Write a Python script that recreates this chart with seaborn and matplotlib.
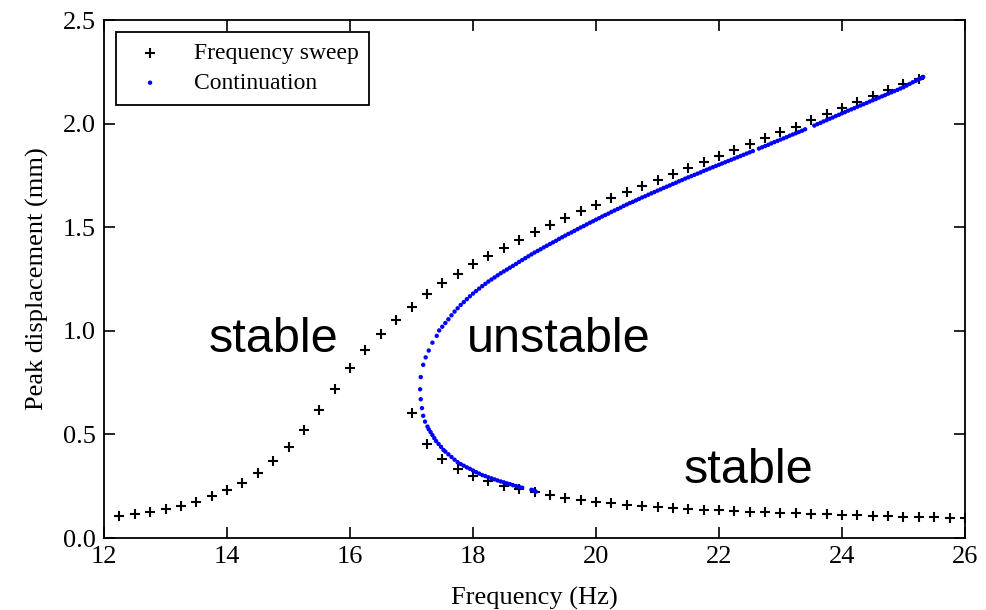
import matplotlib
matplotlib.use("Agg")
import matplotlib.pyplot as plt
import pandas as pd
import seaborn as sns

# frequency sweep: up sweep (12.25 -> 25.25 Hz) and down sweep (26 -> 17 Hz)
up_freq = [12.25, 12.5, 12.75, 13.0, 13.25, 13.5, 13.75, 14.0, 14.25, 14.5,
           14.75, 15.0, 15.25, 15.5, 15.75, 16.0, 16.25, 16.5, 16.75, 17.0,
           17.25, 17.5, 17.75, 18.0, 18.25, 18.5, 18.75, 19.0, 19.25, 19.5,
           19.75, 20.0, 20.25, 20.5, 20.75, 21.0, 21.25, 21.5, 21.75, 22.0,
           22.25, 22.5, 22.75, 23.0, 23.25, 23.5, 23.75, 24.0, 24.25, 24.5,
           24.75, 25.0, 25.25]
up_disp = [0.106, 0.114, 0.126, 0.139, 0.155, 0.174, 0.201, 0.232, 0.266, 0.312,
           0.372, 0.441, 0.522, 0.618, 0.718, 0.820, 0.908, 0.985, 1.053, 1.117,
           1.177, 1.230, 1.274, 1.322, 1.362, 1.402, 1.440, 1.477, 1.512, 1.544,
           1.578, 1.609, 1.641, 1.670, 1.700, 1.728, 1.757, 1.786, 1.816, 1.845,
           1.874, 1.903, 1.931, 1.962, 1.986, 2.019, 2.048, 2.076, 2.106, 2.135,
           2.164, 2.191, 2.218]
down_freq = [26.0, 25.75, 25.5, 25.25, 25.0, 24.75, 24.5, 24.25, 24.0, 23.75,
             23.5, 23.25, 23.0, 22.75, 22.5, 22.25, 22.0, 21.75, 21.5, 21.25,
             21.0, 20.75, 20.5, 20.25, 20.0, 19.75, 19.5, 19.25, 19.0, 18.75,
             18.5, 18.25, 18.0, 17.75, 17.5, 17.25, 17.0]
down_disp = [0.097, 0.098, 0.100, 0.101, 0.103, 0.105, 0.106, 0.109, 0.111, 0.114,
             0.116, 0.119, 0.121, 0.124, 0.127, 0.130, 0.134, 0.137, 0.140, 0.145,
             0.150, 0.155, 0.161, 0.167, 0.175, 0.182, 0.192, 0.206, 0.221, 0.237,
             0.253, 0.275, 0.300, 0.335, 0.382, 0.453, 0.603]

# continuation: lower branch -> turning point -> upper branch
cont_freq = [19.02, 19.0, 18.98, 18.95, 18.8, 18.75, 18.7, 18.65, 18.6, 18.55,
             18.5, 18.45, 18.4, 18.35, 18.3, 18.25, 18.2, 18.15, 18.1, 18.05,
             18.0, 17.95, 17.9, 17.85, 17.8, 17.75, 17.7, 17.65, 17.6, 17.55,
             17.52, 17.48, 17.44, 17.4, 17.37, 17.34, 17.31, 17.28, 17.26, 17.22,
             17.19, 17.17, 17.15, 17.14, 17.15, 17.19, 17.23, 17.28, 17.34, 17.41,
             17.45,
             17.5, 17.55, 17.6, 17.65, 17.7, 17.75, 17.8, 17.85, 17.9, 17.95,
             18.0, 18.05, 18.1, 18.15, 18.2, 18.25, 18.3, 18.35, 18.4, 18.45,
             18.5, 18.55, 18.6, 18.65, 18.7, 18.75, 18.8, 18.85, 18.9, 18.95,
             19.0, 19.05, 19.1, 19.15, 19.2, 19.25, 19.3, 19.35, 19.4, 19.45,
             19.5, 19.55, 19.6, 19.65, 19.7, 19.75, 19.8, 19.85, 19.9, 19.95,
             20.0, 20.05, 20.1, 20.15, 20.2, 20.25, 20.3, 20.35, 20.4, 20.45,
             20.5, 20.55, 20.6, 20.65, 20.7, 20.75, 20.8, 20.85, 20.9, 20.95,
             21.0, 21.05, 21.1, 21.15, 21.2, 21.25, 21.3, 21.35, 21.4, 21.45,
             21.5, 21.55, 21.6, 21.65, 21.7, 21.75, 21.8, 21.85, 21.9, 21.95,
             22.0, 22.05, 22.1, 22.15, 22.2, 22.25, 22.3, 22.35, 22.4, 22.45,
             22.5, 22.55, 22.65, 22.7, 22.75, 22.8, 22.85, 22.9, 22.95,
             23.0, 23.05, 23.1, 23.15, 23.2, 23.25, 23.3, 23.35, 23.4,
             23.55, 23.6, 23.65, 23.7, 23.75, 23.8, 23.85, 23.9, 23.95,
             24.0, 24.05, 24.1, 24.15, 24.2, 24.25, 24.3, 24.35, 24.4, 24.45,
             24.5, 24.55, 24.6, 24.65, 24.7, 24.75, 24.8, 24.85, 24.9, 24.95,
             25.0, 25.05, 25.1, 25.15, 25.2, 25.25, 25.28, 25.3, 25.31, 25.32]
cont_disp = [0.224, 0.227, 0.230, 0.233, 0.243, 0.247, 0.251, 0.255, 0.260, 0.264,
             0.269, 0.273, 0.278, 0.283, 0.288, 0.293, 0.299, 0.304, 0.311, 0.318,
             0.326, 0.334, 0.341, 0.349, 0.357, 0.366, 0.378, 0.391, 0.404, 0.417,
             0.425, 0.440, 0.454, 0.468, 0.482, 0.497, 0.511, 0.525, 0.538, 0.562,
             0.590, 0.627, 0.670, 0.718, 0.777, 0.836, 0.872, 0.905, 0.943, 0.976,
             1.002,
             1.020, 1.038, 1.056, 1.075, 1.093, 1.109, 1.125, 1.139, 1.153, 1.167,
             1.180, 1.192, 1.204, 1.216, 1.227, 1.238, 1.248, 1.258, 1.268, 1.278,
             1.287, 1.296, 1.305, 1.314, 1.323, 1.333, 1.342, 1.351, 1.360, 1.369,
             1.378, 1.386, 1.394, 1.403, 1.411, 1.419, 1.427, 1.435, 1.444, 1.452,
             1.460, 1.468, 1.475, 1.483, 1.491, 1.499, 1.506, 1.514, 1.522, 1.529,
             1.537, 1.544, 1.552, 1.559, 1.566, 1.574, 1.581, 1.588, 1.595, 1.603,
             1.610, 1.617, 1.623, 1.630, 1.637, 1.644, 1.650, 1.657, 1.664, 1.670,
             1.677, 1.683, 1.690, 1.696, 1.702, 1.709, 1.715, 1.722, 1.728, 1.735,
             1.741, 1.747, 1.753, 1.759, 1.765, 1.772, 1.778, 1.784, 1.790, 1.796,
             1.802, 1.808, 1.814, 1.820, 1.826, 1.832, 1.838, 1.844, 1.850, 1.856,
             1.862, 1.868, 1.880, 1.886, 1.892, 1.898, 1.905, 1.911, 1.917,
             1.923, 1.929, 1.935, 1.942, 1.948, 1.954, 1.960, 1.966, 1.973,
             1.991, 1.998, 2.004, 2.011, 2.017, 2.024, 2.030, 2.037, 2.043,
             2.050, 2.056, 2.063, 2.069, 2.075, 2.082, 2.088, 2.094, 2.100, 2.107,
             2.113, 2.119, 2.126, 2.132, 2.138, 2.145, 2.151, 2.157, 2.163, 2.170,
             2.176, 2.184, 2.192, 2.200, 2.207, 2.215, 2.219, 2.222, 2.224, 2.226]

region_labels = ["stable", "unstable", "stable"]
region_x = [14.75, 19.4, 22.48]
region_y = [0.9, 0.9, 0.265]

sns.set_style("ticks")
plt.rcParams["font.family"] = ["Liberation Serif", "DejaVu Serif"]
plt.rcParams.update({
    "xtick.direction": "in", "ytick.direction": "in",
    "xtick.top": True, "ytick.right": True,
    "xtick.major.size": 8, "ytick.major.size": 8,
    "xtick.major.width": 1.2, "ytick.major.width": 1.2,
    "xtick.major.pad": 6, "ytick.major.pad": 6,
    "xtick.color": "black", "ytick.color": "black",
    "axes.edgecolor": "black", "axes.linewidth": 1.3,
    "axes.labelcolor": "black", "text.color": "black",
})

fig = plt.figure(figsize=(9.87, 6.10), dpi=100)
ax = fig.add_axes([0.1054, 0.118, 0.8723, 0.849])

sweep = pd.DataFrame({"freq": up_freq + down_freq, "disp": up_disp + down_disp})
cont = pd.DataFrame({"freq": cont_freq, "disp": cont_disp})

sns.scatterplot(data=sweep, x="freq", y="disp", marker="+", color="black",
                s=62, linewidth=1.5, label="Frequency sweep", ax=ax)
sns.scatterplot(data=cont, x="freq", y="disp", marker=".", color="blue",
                s=40, linewidth=0, edgecolor="none", label="Continuation", ax=ax)

for lab, x, y in zip(region_labels, region_x, region_y):
    ax.text(x, y, lab, ha="center", va="baseline", fontsize=35, color="black",
            family=["Liberation Sans", "DejaVu Sans"])

ax.set_xlim(12, 26)
ax.set_ylim(0, 2.5)
ax.set_xticks(range(12, 27, 2))
ax.set_yticks([0.0, 0.5, 1.0, 1.5, 2.0, 2.5])
ax.set_yticklabels(["0.0", "0.5", "1.0", "1.5", "2.0", "2.5"])
ax.tick_params(labelsize=19, colors="black")
ax.set_xlabel("Frequency (Hz)", fontsize=19, labelpad=13)
ax.set_ylabel("Peak displacement (mm)", fontsize=19, labelpad=10)

leg = ax.legend(loc="upper left", scatterpoints=1, fontsize=17, frameon=True,
                fancybox=False, edgecolor="black", framealpha=1,
                borderaxespad=0.5, borderpad=0.45, labelspacing=0.35,
                handletextpad=0.85)
leg.get_frame().set_linewidth(1.3)

fig.savefig("out.png", dpi=100)
